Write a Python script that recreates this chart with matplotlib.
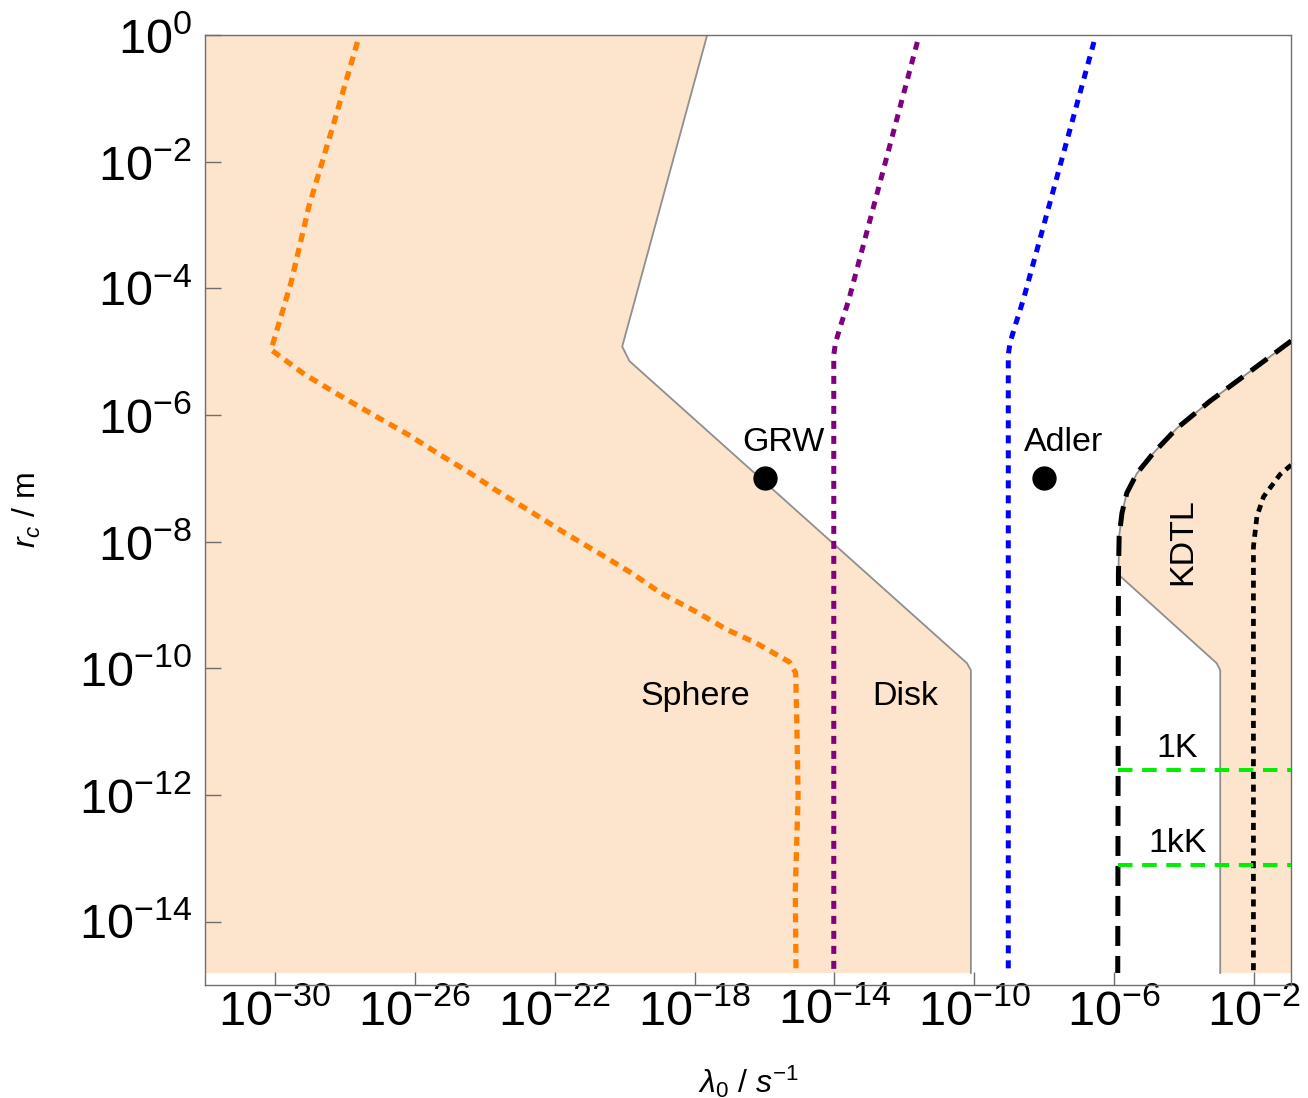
import numpy as np
import matplotlib
matplotlib.use('Agg')
import matplotlib.pyplot as plt
from matplotlib.ticker import FixedLocator, NullLocator, FuncFormatter

plt.rcParams['font.family'] = ['Liberation Sans', 'DejaVu Sans']
plt.rcParams['mathtext.fontset'] = 'custom'
plt.rcParams['mathtext.rm'] = 'Liberation Sans'
plt.rcParams['mathtext.it'] = 'Liberation Sans:italic'
plt.rcParams['mathtext.bf'] = 'Liberation Sans:bold'

# ---------------- data (log10 values) ----------------
x_lim_exp = [-32.0, -0.94]
y_lim_exp = [-15.0, 0.0]
y_data_bottom = -14.81

x_tick_exps = [-30, -26, -22, -18, -14, -10, -6, -2]
y_tick_exps = [0, -2, -4, -6, -8, -10, -12, -14]

# Sphere/Disk excluded region, right-hand boundary
disk_lx = [-17.64, -20.07, -19.86, -10.21, -10.10, -10.10]
disk_ly = [0.0, -4.92, -5.15, -9.92, -10.03, -14.81]

# KDTL excluded region, left-hand boundary
kdtl_lx = [-0.94, -2.11, -3.26, -4.21, -4.88, -5.35, -5.64, -5.78, -5.86, -5.88,
           -5.88, -3.07, -2.97, -2.97]
kdtl_ly = [-4.83, -5.31, -5.78, -6.21, -6.60, -6.92, -7.23, -7.55, -7.92, -8.50,
           -8.52, -9.92, -10.03, -14.81]

# Sphere bound (orange dotted)
sphere_lx = [-27.64, -28.31, -29.03, -29.54, -30.11, -29.15, -28.09, -27.02, -26.19,
             -25.36, -24.41, -23.70, -22.76, -21.69, -20.74, -19.79, -18.97, -17.98,
             -17.07, -16.24, -15.29, -15.11, -15.08, -15.04, -15.12, -15.10]
sphere_ly = [-0.11, -1.38, -2.71, -3.91, -4.97, -5.36, -5.71, -6.05, -6.31,
             -6.60, -6.92, -7.18, -7.50, -7.87, -8.18, -8.50, -8.81, -9.10,
             -9.39, -9.60, -9.90, -10.07, -10.77, -12.0, -13.5, -14.81]

# Disk bound (purple dotted)
disk_line_lx = [-11.63, -13.59, -13.83, -13.97, -14.02, -14.02]
disk_line_ly = [-0.11, -4.18, -4.60, -4.86, -5.05, -14.81]

# Blue dotted
blue_lx = [-6.58, -8.60, -8.84, -8.98, -9.03, -9.03]
blue_ly = [-0.11, -4.18, -4.60, -4.86, -5.05, -14.81]

# KDTL black dashed
kdtl_line_lx = [-0.94, -2.11, -3.26, -4.21, -4.88, -5.35, -5.64, -5.78, -5.86, -5.88, -5.90]
kdtl_line_ly = [-4.83, -5.31, -5.78, -6.21, -6.60, -6.92, -7.23, -7.55, -7.92, -8.50, -14.81]

# Black dotted
black_dot_lx = [-0.94, -1.26, -1.73, -1.92, -2.02, -2.02]
black_dot_ly = [-6.79, -6.94, -7.29, -7.60, -8.08, -14.81]

# Temperature lines (green dashed)
temp_lx = [-5.90, -0.94]
temp_1K_ly = -11.61
temp_1kK_ly = -13.11

# Points
points_lx = [-16.0, -8.0]
points_ly = [-7.0, -7.0]

# Text labels
labels = ['GRW', 'Adler', 'Sphere', 'Disk', '1K', '1kK']
labels_lx = [-15.46, -7.46, -17.97, -11.97, -4.2, -4.2]
labels_ly = [-6.44, -6.44, -10.45, -10.45, -11.26, -12.76]
kdtl_label_pos = (-4.03, -8.0)

# ---------------- styling ----------------
peach = '#FDE4CC'
edge_gray = '#8f8f8f'
frame_gray = '#6e6e6e'

def p(v):
    return 10.0 ** np.asarray(v, dtype=float)

fig = plt.figure(figsize=(13.08, 10.98), dpi=100)
ax = fig.add_axes([205 / 1308, 1 - 985 / 1098, (1291.2 - 205) / 1308, (985 - 35) / 1098])
ax.set_xscale('log')
ax.set_yscale('log')
ax.set_xlim(p(x_lim_exp))
ax.set_ylim(p(y_lim_exp))

# Sphere/Disk fill
fx = [x_lim_exp[0]] + disk_lx + [x_lim_exp[0]]
fy = [0.0] + disk_ly + [y_data_bottom]
ax.fill(p(fx), p(fy), color=peach, lw=0, zorder=1)
ax.plot(p(disk_lx), p(disk_ly), color=edge_gray, lw=1.3, zorder=2)

# KDTL fill
kx = kdtl_lx + [x_lim_exp[1], x_lim_exp[1]]
ky = kdtl_ly + [y_data_bottom, kdtl_ly[0]]
ax.fill(p(kx), p(ky), color=peach, lw=0, zorder=1)
ax.plot(p(kdtl_lx), p(kdtl_ly), color=edge_gray, lw=1.3, zorder=2)

# lines
ax.plot(p(sphere_lx), p(sphere_ly), color='#FF8000', lw=3.8, dashes=(1.7, 1.2), zorder=3)
ax.plot(p(disk_line_lx), p(disk_line_ly), color='#800080', lw=3.6, dashes=(1.6, 1.4), zorder=3)
ax.plot(p(blue_lx), p(blue_ly), color='#0000FF', lw=3.6, dashes=(1.6, 1.4), zorder=3)
ax.plot(p(kdtl_line_lx), p(kdtl_line_ly), color='black', lw=3.6, dashes=(4.0, 2.0), zorder=3)
ax.plot(p(black_dot_lx), p(black_dot_ly), color='black', lw=3.4, dashes=(1.5, 1.2), zorder=3)
for ly in (temp_1K_ly, temp_1kK_ly):
    ax.plot(p(temp_lx), p([ly, ly]), color='#00EE00', lw=2.9, dashes=(3.6, 2.4), zorder=3)

# points
ax.plot(p(points_lx), p(points_ly), 'o', color='black', ms=16.5, zorder=4)

# labels
for t, lx, ly in zip(labels, labels_lx, labels_ly):
    ax.text(p(lx), p(ly), t, ha='center', va='center', fontsize=24.5, zorder=5)
ax.text(p(kdtl_label_pos[0]), p(kdtl_label_pos[1]), 'KDTL', ha='center', va='center',
        fontsize=24.5, rotation=90, zorder=5)

# axes styling
for s in ax.spines.values():
    s.set_color(frame_gray)
    s.set_linewidth(1.0)
ax.xaxis.set_major_locator(FixedLocator(p(x_tick_exps)))
ax.yaxis.set_major_locator(FixedLocator(p(y_tick_exps)))
ax.xaxis.set_minor_locator(NullLocator())
ax.yaxis.set_minor_locator(NullLocator())
fmt = FuncFormatter(lambda v, pos: r'$10^{%d}$' % int(round(np.log10(v))))
ax.xaxis.set_major_formatter(fmt)
ax.yaxis.set_major_formatter(fmt)
ax.tick_params(axis='x', direction='in', length=9.5, width=1, color=frame_gray,
               labelsize=35, pad=3, top=False)
ax.tick_params(axis='y', direction='in', length=11.5, width=1, color=frame_gray,
               labelsize=35, pad=9.5, right=False)

ax.set_xlabel(r'$\lambda_0\ /\ s^{-1}$', fontsize=23)
ax.xaxis.set_label_coords(0.5, -0.083)
ax.set_ylabel(r'$r_c\ /\ \mathrm{m}$', fontsize=23)
ax.yaxis.set_label_coords(-0.149, 0.5)

fig.savefig('out.png', dpi=100)
